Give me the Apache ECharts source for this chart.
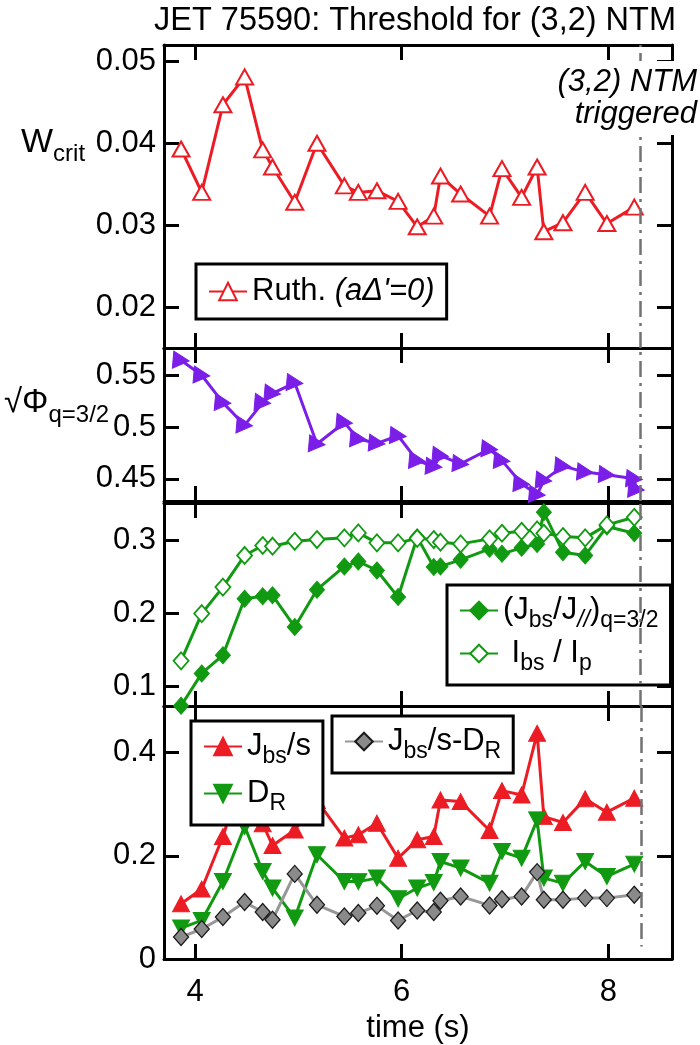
<!DOCTYPE html>
<html>
<head>
<meta charset="utf-8">
<script src="https://cdn.jsdelivr.net/npm/echarts@6/dist/echarts.min.js"></script>
<style>
html, body { margin: 0; padding: 0; background: #fff; }
#chart { width: 700px; height: 1045px; }
</style>
</head>
<body>
<div id="chart"></div>
<script>
// JET pulse 75590: onset conditions for the (3,2) neoclassical tearing mode
const TIME = [3.865, 4.065, 4.27, 4.48, 4.655, 4.75, 4.965, 5.18, 5.445, 5.58, 5.76, 5.965,
  6.15, 6.31, 6.375, 6.57, 6.85, 6.97, 7.16, 7.31, 7.375, 7.56, 7.775, 7.985, 8.25];
const PHI_TIME = [3.865, 4.065, 4.27, 4.48, 4.655, 4.75, 4.965, 5.18, 5.445, 5.58, 5.76, 5.965,
  6.15, 6.31, 6.375, 6.57, 6.85, 6.97, 7.16, 7.31, 7.375, 7.56, 7.775, 7.985, 8.25, 8.27];

// critical island width, Rutherford (aΔ'=0)
const W_CRIT = [0.0393, 0.0340, 0.0447, 0.0481, 0.0392, 0.0371, 0.0328, 0.0400, 0.0348, 0.0340,
  0.0342, 0.0329, 0.0298, 0.0311, 0.0360, 0.0338, 0.0311, 0.0369, 0.0334, 0.0371, 0.0292, 0.0303,
  0.0340, 0.0302, 0.0322];
// sqrt of normalised toroidal flux at q = 3/2
const SQRT_PHI = [0.5644, 0.5500, 0.5236, 0.5018, 0.5236, 0.5325, 0.5427, 0.4836, 0.5044, 0.4884,
  0.4843, 0.4916, 0.4676, 0.4619, 0.4724, 0.4645, 0.4788, 0.4676, 0.4453, 0.4348, 0.4485, 0.4623,
  0.4565, 0.4540, 0.4500, 0.4398];
// local bootstrap fraction at q = 3/2
const JBS_FRAC = [0.0730, 0.1174, 0.1425, 0.2201, 0.2233, 0.2247, 0.1813, 0.2324, 0.2644, 0.2712,
  0.2589, 0.2223, 0.3045, 0.2635, 0.2644, 0.2735, 0.2886, 0.2817, 0.2900, 0.2954, 0.3388, 0.2840,
  0.2795, 0.3192, 0.3100];
// global bootstrap fraction Ibs / Ip
const IBS_IP = [0.1347, 0.1996, 0.2360, 0.2795, 0.2932, 0.2922, 0.2990, 0.3014, 0.3037, 0.3105,
  0.2968, 0.2968, 0.3030, 0.3014, 0.2977, 0.2954, 0.3023, 0.3100, 0.3128, 0.3146, 0.3100, 0.3055,
  0.3037, 0.3215, 0.3320];
// bootstrap drive, curvature term and their difference
const JBS_S = [0.107, 0.1355, 0.2374, 0.367, 0.262, 0.220, 0.250, 0.307, 0.2343, 0.2407, 0.2633,
  0.1955, 0.231, 0.2374, 0.3084, 0.3051, 0.249, 0.3264, 0.318, 0.4375, 0.276, 0.2645, 0.3104,
  0.2846, 0.3117];
const D_R = [0.060, 0.0748, 0.1503, 0.257, 0.1696, 0.1375, 0.0794, 0.202, 0.1503, 0.150, 0.1568,
  0.1167, 0.1375, 0.1484, 0.189, 0.1762, 0.1471, 0.2083, 0.1955, 0.2697, 0.1568, 0.147, 0.189,
  0.160, 0.1839];
const JBS_S_MINUS_DR = [0.0426, 0.058, 0.0813, 0.1103, 0.091, 0.0761, 0.165, 0.105, 0.0826, 0.089,
  0.103, 0.0748, 0.094, 0.091, 0.1129, 0.1213, 0.1039, 0.116, 0.1213, 0.1684, 0.1148, 0.1148,
  0.118, 0.118, 0.1245];

// time at which the (3,2) NTM is triggered
const NTM_TIME = 8.315;

// tick positions
const X_TICKS = [4, 6, 8];
const W_TICKS = [0.02, 0.03, 0.04, 0.05];
const PHI_TICKS = [0.45, 0.5, 0.55];
const FRAC_TICKS = [0.1, 0.2, 0.3];
const DRIVE_TICKS = [0, 0.2, 0.4];

const FONT = "'Liberation Sans', Arial, Helvetica, sans-serif";
const RED = '#ec1c24';
const PURPLE = '#7a1ee8';
const GREEN = '#119a11';
const GREY = '#979797';
const FS = 31;
const SUB = 23;
const LW = 3;

const X_MIN = 3.70, X_MAX = 8.615;
const PANELS = [
  { top: 45, height: 303, min: 0.015, max: 0.052, ticks: W_TICKS },
  { top: 348, height: 153, min: 0.4286, max: 0.5763, ticks: PHI_TICKS },
  { top: 503, height: 203, min: 0.0726, max: 0.3516, ticks: FRAC_TICKS },
  { top: 706, height: 253, min: 0, max: 0.4904, ticks: DRIVE_TICKS }
];

const pairs = (ts, vs) => vs.map((v, k) => [ts[k], v]);

const frameLine = { show: true, onZero: false, lineStyle: { color: '#000', width: 3 } };
const tickStyle = { color: '#000', width: 3 };

const grids = [], xAxes = [], yAxes = [];
PANELS.forEach((p, i) => {
  grids.push({ left: 164, width: 508, top: p.top, height: p.height, containLabel: false });
  const last = i === PANELS.length - 1;
  ['bottom', 'top'].forEach(pos => {
    const withLabels = last && pos === 'bottom';
    xAxes.push({
      type: 'value', gridIndex: i, position: pos, min: X_MIN, max: X_MAX,
      axisLine: frameLine,
      axisTick: { show: true, inside: true, length: 15, customValues: X_TICKS, lineStyle: tickStyle },
      axisLabel: { show: withLabels, customValues: X_TICKS, fontSize: FS, fontFamily: FONT, color: '#000', margin: 18 },
      splitLine: { show: false },
      name: withLabels ? 'time (s)' : '',
      nameLocation: 'middle', nameGap: 54,
      nameTextStyle: { fontSize: FS, fontFamily: FONT, color: '#000' }
    });
  });
  ['left', 'right'].forEach(pos => {
    yAxes.push({
      type: 'value', gridIndex: i, position: pos, min: p.min, max: p.max,
      axisLine: frameLine,
      axisTick: { show: true, inside: true, length: 15, customValues: p.ticks, lineStyle: tickStyle },
      axisLabel: { show: pos === 'left', customValues: p.ticks, fontSize: FS, fontFamily: FONT, color: '#000', margin: 8 },
      splitLine: { show: false }
    });
  });
});

const ntmLine = (data) => ({
  silent: true, symbol: ['none', 'none'], animation: false,
  label: { show: false },
  lineStyle: { color: '#727272', width: 2.5, type: [16, 6, 3, 6] },
  data: data
});

const NAMES = {
  ruth: "Ruth. (aΔ'=0)",
  phi: '√Φ q=3/2',
  frac: '(Jbs/J//) q=3/2',
  ibs: 'Ibs / Ip',
  drive: 'Jbs/s',
  dr: 'DR',
  diff: 'Jbs/s-DR'
};
const LEGEND_RICH = {
  [NAMES.ruth]: "Ruth. {it|(aΔ'=0)}",
  [NAMES.frac]: '(J{sub|bs}/J{subIt|//}){sub|q=3/2}',
  [NAMES.ibs]: ' I{sub|bs} / I{sub|p}',
  [NAMES.drive]: 'J{sub|bs}/s',
  [NAMES.dr]: 'D{sub|R}',
  [NAMES.diff]: 'J{sub|bs}/s-D{sub|R}'
};
const richStyles = {
  it: { fontStyle: 'italic', fontSize: FS, fontFamily: FONT, color: '#000' },
  sub: { fontSize: SUB, fontFamily: FONT, color: '#000', padding: [20, 0, 0, 0] },
  subIt: { fontSize: SUB, fontStyle: 'italic', fontFamily: FONT, color: '#000', padding: [20, 0, 0, 0] }
};
const legendBox = (names, left, top, extra) => Object.assign({
  data: names, left: left, top: top, orient: 'vertical', selectedMode: false,
  backgroundColor: '#fff', borderColor: '#000', borderWidth: 3,
  padding: [10, 12, 10, 12], itemWidth: 38, itemHeight: 22, itemGap: 6,
  textStyle: { fontSize: FS, fontFamily: FONT, color: '#000', rich: richStyles },
  formatter: name => LEGEND_RICH[name]
}, extra || {});

const option = {
  animation: false,
  backgroundColor: '#fff',
  grid: grids,
  xAxis: xAxes,
  yAxis: yAxes,
  legend: [
    legendBox([NAMES.ruth], 196, 264, { padding: [12, 12, 12, 12] }),
    legendBox([NAMES.frac, NAMES.ibs], 447, 585),
    legendBox([NAMES.drive, NAMES.dr], 191, 721, { itemGap: 10 }),
    legendBox([NAMES.diff], 332, 716)
  ],
  series: [
    {
      name: NAMES.ruth, type: 'line', xAxisIndex: 0, yAxisIndex: 0,
      data: pairs(TIME, W_CRIT),
      symbol: 'triangle', symbolSize: [17, 15],
      itemStyle: { color: '#fff', borderColor: RED, borderWidth: 2 },
      lineStyle: { color: RED, width: LW },
      markLine: ntmLine([{ xAxis: NTM_TIME }])
    },
    {
      name: NAMES.phi, type: 'line', xAxisIndex: 2, yAxisIndex: 2,
      data: pairs(PHI_TIME, SQRT_PHI),
      symbol: 'triangle', symbolSize: [17, 16], symbolRotate: -95,
      itemStyle: { color: PURPLE, borderColor: PURPLE, borderWidth: 1 },
      lineStyle: { color: PURPLE, width: LW },
      markLine: ntmLine([{ xAxis: NTM_TIME }])
    },
    {
      name: NAMES.frac, type: 'line', xAxisIndex: 4, yAxisIndex: 4,
      data: pairs(TIME, JBS_FRAC), clip: false,
      symbol: 'diamond', symbolSize: [15, 17],
      itemStyle: { color: GREEN, borderColor: GREEN, borderWidth: 1 },
      lineStyle: { color: GREEN, width: LW },
      markLine: ntmLine([{ xAxis: NTM_TIME }])
    },
    {
      name: NAMES.ibs, type: 'line', xAxisIndex: 4, yAxisIndex: 4,
      data: pairs(TIME, IBS_IP),
      symbol: 'diamond', symbolSize: [15, 17],
      itemStyle: { color: '#fff', borderColor: GREEN, borderWidth: 1.8 },
      lineStyle: { color: GREEN, width: LW }
    },
    {
      name: NAMES.drive, type: 'line', xAxisIndex: 6, yAxisIndex: 6,
      data: pairs(TIME, JBS_S),
      symbol: 'triangle', symbolSize: [17, 16],
      itemStyle: { color: RED, borderColor: RED, borderWidth: 1 },
      lineStyle: { color: RED, width: LW },
      markLine: ntmLine([[{ coord: [NTM_TIME, 0.4904] }, { coord: [NTM_TIME, 0.024] }]])
    },
    {
      name: NAMES.dr, type: 'line', xAxisIndex: 6, yAxisIndex: 6,
      data: pairs(TIME, D_R),
      symbol: 'triangle', symbolSize: [17, 16], symbolRotate: 180,
      itemStyle: { color: GREEN, borderColor: GREEN, borderWidth: 1 },
      lineStyle: { color: GREEN, width: LW }
    },
    {
      name: NAMES.diff, type: 'line', xAxisIndex: 6, yAxisIndex: 6,
      data: pairs(TIME, JBS_S_MINUS_DR),
      symbol: 'diamond', symbolSize: [15, 17],
      itemStyle: { color: '#8a8a8a', borderColor: '#1a1a1a', borderWidth: 1.3 },
      lineStyle: { color: GREY, width: LW }
    }
  ],
  graphic: [
    {
      type: 'text', x: 415, y: 21, z: 50,
      style: { text: 'JET 75590: Threshold for (3,2) NTM', fontSize: 32.5, fontFamily: FONT,
        fill: '#000', align: 'center', verticalAlign: 'middle' }
    },
    {
      type: 'text', x: 21, y: 143, z: 50,
      style: { text: 'W{sub|crit}', fontSize: 34, fontFamily: FONT, fill: '#000',
        align: 'left', verticalAlign: 'middle',
        rich: { sub: { fontSize: 24, fontFamily: FONT, fill: '#000', padding: [22, 0, 0, 0] } } }
    },
    {
      type: 'text', x: 4, y: 403, z: 50,
      style: { text: '√Φ{sub|q=3/2}', fontSize: 33, fontFamily: FONT, fill: '#000',
        align: 'left', verticalAlign: 'middle',
        rich: { sub: { fontSize: 24, fontFamily: FONT, fill: '#000', padding: [24, 0, 0, 0] } } }
    },
    {
      type: 'rect', z: 100,
      shape: { x: 548, y: 61, width: 152, height: 74 },
      style: { fill: '#fff' }
    },
    {
      type: 'text', x: 697, y: 82, z: 101,
      style: { text: '(3,2) NTM', fontSize: FS, fontStyle: 'italic', fontFamily: FONT,
        fill: '#000', align: 'right', verticalAlign: 'middle' }
    },
    {
      type: 'text', x: 697, y: 114, z: 101,
      style: { text: 'triggered', fontSize: FS, fontStyle: 'italic', fontFamily: FONT,
        fill: '#000', align: 'right', verticalAlign: 'middle' }
    }
  ]
};

const chart = echarts.init(document.getElementById('chart'), null, { renderer: 'canvas' });
chart.setOption(option);
</script>
</body>
</html>
